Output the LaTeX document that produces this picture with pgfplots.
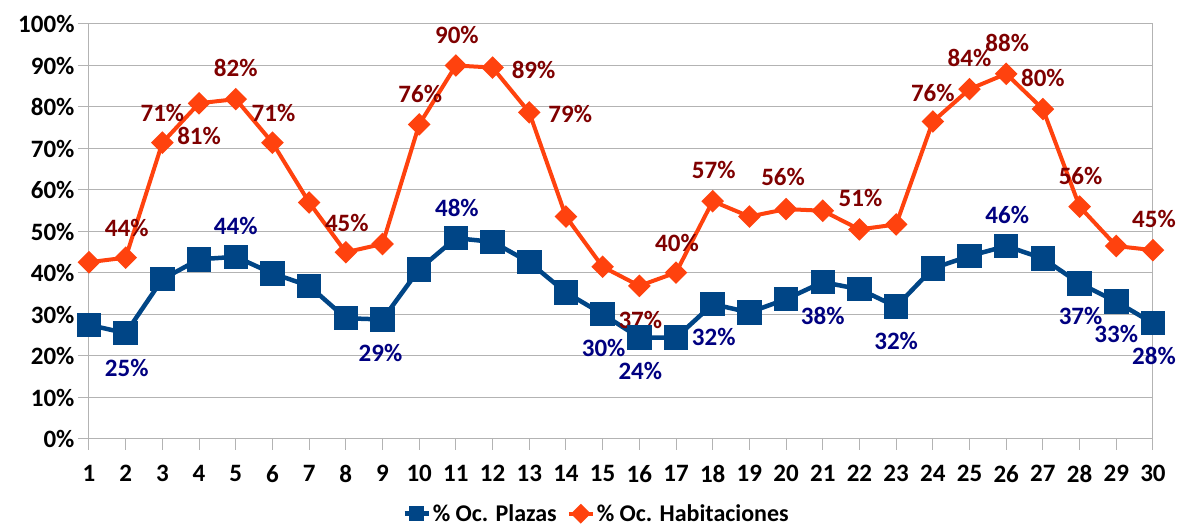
\documentclass[border=0pt]{standalone}
\usepackage{pgfplots}
\pgfplotsset{compat=1.18}
\usepackage{fontspec}
\setmainfont{Carlito}
\definecolor{cblue}{HTML}{004586}
\definecolor{corange}{HTML}{FF420E}
\definecolor{lblue}{HTML}{000080}
\definecolor{lred}{HTML}{7F0000}
\definecolor{cgrid}{HTML}{B3B3B3}
\newcommand{\lr}[4]{\node[text=lred,font=\fontsize{25}{30}\selectfont\bfseries,xshift=#3pt,yshift=#4pt] at (axis cs:#1) {#2};}
\newcommand{\lb}[4]{\node[text=lblue,font=\fontsize{25}{30}\selectfont\bfseries,xshift=#3pt,yshift=#4pt] at (axis cs:#1) {#2};}
\begin{document}
\begin{tikzpicture}
\useasboundingbox (-89pt,-88pt) rectangle (1090pt,439pt);
\begin{axis}[
  at={(0,0)}, anchor=south west,
  scale only axis, width=1064pt, height=415pt,
  xmin=1, xmax=30, ymin=0, ymax=100,
  xtick={1,...,30},
  xticklabels={1,2,3,4,5,6,7,8,9,10,11,12,13,14,15,16,17,18,19,20,21,22,23,24,25,26,27,28,29,30},
  ytick={0,10,...,100},
  yticklabels={0\%,10\%,20\%,30\%,40\%,50\%,60\%,70\%,80\%,90\%,100\%},
  tick label style={font=\fontsize{25}{30}\selectfont\bfseries, text=black},
  xticklabel style={yshift=-12pt},
  tick align=outside, major tick length=11pt,
  tick style={cgrid, line width=1pt},
  axis line style={cgrid, line width=1pt},
  ymajorgrids, grid style={cgrid, line width=1pt},
  xtick pos=bottom, ytick pos=left,
  clip=false,
  legend style={at={(0.477,-0.18)}, anchor=center, draw=none, fill=none,
    font=\fontsize{24}{28}\selectfont\bfseries, legend columns=2,
    /tikz/every even column/.append style={column sep=8pt}},
  legend image code/.code={\draw[#1] (0pt,0pt) -- (24pt,0pt); \path[#1] plot[mark size=5pt] coordinates {(12pt,0pt)};},
]
\addplot[cblue, line width=4.5pt, mark=square*, mark size=10pt, mark options={solid}] coordinates {
(1,27.5)(2,25.5)(3,38.5)(4,43.3)(5,43.9)(6,39.9)(7,36.9)(8,29.1)(9,28.8)(10,40.9)
(11,48.4)(12,47.5)(13,42.6)(14,35.3)(15,30.1)(16,24.4)(17,24.4)(18,32.5)(19,30.5)(20,33.7)
(21,37.8)(22,36.1)(23,31.9)(24,41.1)(25,44.1)(26,46.5)(27,43.5)(28,37.5)(29,33.1)(30,27.9)};
\addlegendentry{\% Oc. Plazas}
\addplot[corange, line width=4pt, mark=square*, mark size=6pt, mark options={rotate=45,solid}] coordinates {
(1,42.6)(2,43.7)(3,71.4)(4,80.9)(5,81.9)(6,71.4)(7,57.0)(8,45.0)(9,47.0)(10,75.8)
(11,90.0)(12,89.5)(13,78.7)(14,53.6)(15,41.5)(16,36.9)(17,40.1)(18,57.3)(19,53.6)(20,55.4)
(21,55.0)(22,50.5)(23,51.7)(24,76.5)(25,84.3)(26,88.0)(27,79.5)(28,56.0)(29,46.5)(30,45.5)};
\addlegendentry{\% Oc. Habitaciones}
% orange labels
\lr{2,43.7}{44\%}{1}{30}
\lr{3,71.4}{71\%}{0}{30}
\lr{4,80.9}{81\%}{0}{-33}
\lr{5,81.9}{82\%}{0}{31}
\lr{6,71.4}{71\%}{1}{30}
\lr{8,45.0}{45\%}{1}{29}
\lr{10,75.8}{76\%}{1}{30}
\lr{11,90.0}{90\%}{1}{31}
\lr{12,89.5}{89\%}{41}{-2}
\lr{13,78.7}{79\%}{41}{-2}
\lr{16,36.9}{37\%}{1}{-34}
\lr{17,40.1}{40\%}{1}{30}
\lr{18,57.3}{57\%}{1}{31}
\lr{20,55.4}{56\%}{-3}{32}
\lr{22,50.5}{51\%}{1}{31}
\lr{24,76.5}{76\%}{0}{29}
\lr{25,84.3}{84\%}{0}{31}
\lr{26,88.0}{88\%}{1}{31}
\lr{27,79.5}{80\%}{0}{31}
\lr{28,56.0}{56\%}{1}{31}
\lr{30,45.5}{45\%}{1}{31}
% blue labels
\lb{2,25.5}{25\%}{1}{-35}
\lb{5,43.9}{44\%}{0}{31}
\lb{9,28.8}{29\%}{-2}{-34}
\lb{11,48.4}{48\%}{1}{30}
\lb{15,30.1}{30\%}{1}{-34}
\lb{16,24.4}{24\%}{1}{-33}
\lb{18,32.5}{32\%}{1}{-33}
\lb{21,37.8}{38\%}{0}{-34}
\lb{23,31.9}{32\%}{0}{-34}
\lb{26,46.5}{46\%}{1}{31}
\lb{28,37.5}{37\%}{1}{-33}
\lb{29,33.1}{33\%}{0}{-32}
\lb{30,27.9}{28\%}{1}{-33}
\end{axis}
\end{tikzpicture}
\end{document}
